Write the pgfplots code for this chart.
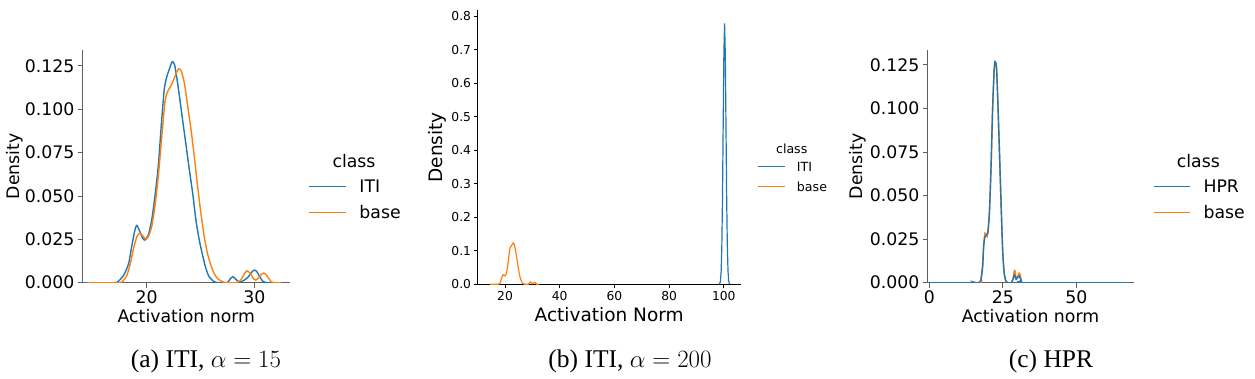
\documentclass[border=0pt]{standalone}
\usepackage{fontspec}
\usepackage{pgfplots}
\usepackage{pgfplotstable}
\pgfplotsset{compat=1.18}
\newfontfamily\djv{DejaVu Sans}
\newfontfamily\capfont{Liberation Serif}
\definecolor{tblue}{RGB}{31,119,180}
\definecolor{torange}{RGB}{255,127,14}
\definecolor{spinegray}{RGB}{95,95,95}

\pgfplotstableread{
x y
14.2 0
16.95 0
17.4 0.001
17.87 0.0044
18.32 0.011
18.63 0.0217
18.93 0.031
19.09 0.033
19.33 0.030
19.63 0.0256
19.85 0.0246
20.15 0.0275
20.46 0.036
20.76 0.0496
21.07 0.067
21.37 0.092
21.62 0.111
21.83 0.118
22.13 0.1237
22.38 0.1275
22.59 0.1256
22.8 0.118
23.05 0.107
23.35 0.093
23.66 0.079
23.96 0.065
24.27 0.0515
24.57 0.036
24.88 0.0246
25.18 0.016
25.49 0.0083
25.79 0.0035
26.25 0.0006
26.7 0
27.47 0
27.71 0.0019
27.99 0.0035
28.29 0.0019
28.6 0.0004
28.99 0.0012
29.39 0.0031
29.76 0.0062
30.0 0.0073
30.24 0.0062
30.52 0.0031
30.82 0.0006
31.13 0
32.0 0
}\itia

\pgfplotstableread{
x y
14.5 0
17.4 0
17.87 0.0015
18.17 0.0044
18.48 0.011
18.78 0.0198
19.09 0.0265
19.33 0.0285
19.63 0.027
19.9 0.0252
20.15 0.0265
20.46 0.0323
20.76 0.0438
21.07 0.061
21.37 0.082
21.68 0.1035
21.92 0.110
22.2 0.113
22.5 0.117
22.74 0.1208
22.96 0.1233
23.2 0.1223
23.5 0.115
23.81 0.1015
24.12 0.088
24.42 0.0727
24.73 0.0554
25.03 0.040
25.34 0.0265
25.64 0.0169
25.95 0.0102
26.25 0.0054
26.55 0.0025
27.01 0.0006
27.47 0
28.38 0
28.69 0.0012
28.99 0.0044
29.3 0.0069
29.6 0.0054
29.91 0.0023
30.12 0.0015
30.37 0.0027
30.67 0.005
30.88 0.0056
31.13 0.0042
31.43 0.0015
31.74 0
32.5 0
}\basea

\pgfplotstableread{
x y
98.3 0
98.55 0.0023
98.8 0.0108
99.05 0.040
99.3 0.117
99.55 0.267
99.8 0.484
100.05 0.691
100.3 0.778
100.55 0.691
100.8 0.484
101.05 0.267
101.3 0.117
101.55 0.040
101.8 0.0108
102.05 0.0023
102.3 0
}\itib

\pgfplotstableread{
x y
0 0
14.1 0
14.9 0.0004
15.8 0
16.7 0
17.5 0.0015
18.1 0.009
18.45 0.0207
18.9 0.0264
19.5 0.0274
19.9 0.029
20.4 0.040
20.95 0.0666
21.5 0.101
22.0 0.122
22.3 0.127
22.8 0.124
23.2 0.107
23.8 0.076
24.4 0.0436
24.95 0.0168
25.5 0.0044
26.1 0.0006
26.6 0
27.8 0
28.3 0.0015
28.9 0.0044
29.5 0.0019
30.0 0.003
30.6 0.0038
31.2 0.0011
31.7 0
67 0
}\hprc

\pgfplotstableread{
x y
0 0
16.8 0
17.5 0.002
18.1 0.011
18.45 0.0225
18.9 0.0285
19.3 0.0275
19.6 0.0265
19.9 0.030
20.4 0.041
20.95 0.066
21.5 0.100
22.0 0.121
22.3 0.126
22.8 0.1235
23.2 0.107
23.8 0.076
24.4 0.0436
24.95 0.017
25.5 0.0046
26.1 0.0006
26.6 0
27.9 0
28.4 0.002
28.8 0.0065
29.1 0.0068
29.5 0.0025
29.9 0.003
30.5 0.0055
30.8 0.0048
31.3 0.0012
31.8 0
67 0
}\basec

\pgfplotsset{
  kdebase/.style={
    scale only axis,
    axis lines=left,
    axis line style={-},
    every outer x axis line/.append style={-},
    every outer y axis line/.append style={-},
    tick align=outside,
    major tick length=5pt,
    minor tick num=0,
    scaled x ticks=false,
    scaled y ticks=false,
    /pgf/number format/assume math mode=true,
    legend cell align=left,
    ymin=0,
  },
  bigfont/.style={
    axis line style={spinegray, line width=1.2pt},
    tick style={spinegray, line width=1pt},
    ticklabel style={font=\fontsize{17.3}{20}\selectfont\djv, inner sep=3pt},
    label style={font=\fontsize{17.3}{20}\selectfont\djv},
    legend style={draw=none, fill=none, inner sep=0pt, outer sep=0pt,
      anchor=north west, row sep=13.4pt, column sep=13pt,
      font=\fontsize{17.3}{20}\selectfont\djv,
      nodes={inner sep=0pt, text height=12.6pt, text depth=0pt}},
    legend image code/.code={\draw[##1] (0pt,0pt) -- (37pt,0pt);},
  },
}

\begin{document}
\begin{tikzpicture}[x=1pt,y=1pt]
\path[use as bounding box] (0,0) rectangle (1255,378);

% ---------- panel (a)
\begin{axis}[kdebase, bigfont,
  at={(82.7pt,95.3pt)}, anchor=south west,
  width=207.3pt, height=232.7pt,
  xmin=14.06, xmax=33.3, ymax=0.1342,
  xtick={20,30},
  ytick={0,0.025,0.05,0.075,0.1,0.125},
  yticklabel style={/pgf/number format/.cd, fixed, fixed zerofill, precision=3},
  xlabel={Activation norm},
  ylabel={Density},
  xlabel style={at={(axis description cs:0.5,-0.1719)}, anchor=base},
  ylabel style={at={(axis description cs:-0.329,0.5)}, anchor=center},
  legend style={at={(axis description cs:1.0868,0.4405)}},
]
\addplot[tblue, line width=1.4pt, smooth, tension=0.4, forget plot] table[x=x,y=y] {\itia};
\addplot[torange, line width=1.4pt, smooth, tension=0.4, forget plot] table[x=x,y=y] {\basea};
\addlegendimage{tblue, line width=1.5pt}
\addlegendentry{ITI}
\addlegendimage{torange, line width=1.5pt}
\addlegendentry{base}
\end{axis}
\node[anchor=base, font=\fontsize{17.3}{20}\selectfont\djv] at (354,210.3) {class};

% ---------- panel (b)
\begin{axis}[kdebase,
  at={(477.7pt,93.7pt)}, anchor=south west,
  width=263pt, height=273.8pt,
  xmin=10.0, xmax=106.2, ymax=0.8164,
  axis line style={black, line width=1pt},
  tick style={black, line width=0.9pt},
  major tick length=4pt,
  ticklabel style={font=\fontsize{12.3}{14}\selectfont\djv, inner sep=2.5pt},
  label style={font=\fontsize{18.5}{22}\selectfont\djv},
  xtick={20,40,60,80,100},
  ytick={0,0.1,0.2,0.3,0.4,0.5,0.6,0.7,0.8},
  yticklabel style={/pgf/number format/.cd, fixed, fixed zerofill, precision=1},
  xlabel={Activation Norm},
  ylabel={Density},
  xlabel style={at={(axis description cs:0.5,-0.1366)}, anchor=base},
  ylabel style={at={(axis description cs:-0.154,0.5)}, anchor=center},
  legend style={draw=none, fill=none, inner sep=0pt, outer sep=0pt,
      at={(axis description cs:1.063,0.4470)},
      anchor=north west, row sep=10.8pt, column sep=11.4pt,
      font=\fontsize{12.6}{15}\selectfont\djv,
      nodes={inner sep=0pt, text height=9.2pt, text depth=0pt}},
  legend image code/.code={\draw[#1] (0pt,0pt) -- (27pt,0pt);},
]
\addplot[tblue, line width=1.2pt, forget plot] table[x=x,y=y] {\itib};
\addplot[torange, line width=1.2pt, smooth, tension=0.4, forget plot] table[x=x,y=y] {\basea};
\addlegendimage{tblue, line width=1.3pt}
\addlegendentry{ITI}
\addlegendimage{torange, line width=1.3pt}
\addlegendentry{base}
\end{axis}
\node[anchor=base, font=\fontsize{12.6}{15}\selectfont\djv] at (791.7,224.7) {class};

% ---------- panel (c)
\begin{axis}[kdebase, bigfont,
  at={(927.7pt,95.3pt)}, anchor=south west,
  width=206.6pt, height=232.7pt,
  xmin=-0.6, xmax=69.7, ymax=0.1336,
  xtick={0,25,50},
  ytick={0,0.025,0.05,0.075,0.1,0.125},
  yticklabel style={/pgf/number format/.cd, fixed, fixed zerofill, precision=3},
  xlabel={Activation norm},
  ylabel={Density},
  xlabel style={at={(axis description cs:0.4976,-0.1719)}, anchor=base},
  ylabel style={at={(axis description cs:-0.337,0.5)}, anchor=center},
  legend style={at={(axis description cs:1.092,0.4405)}},
  legend image code/.code={\draw[#1] (0pt,0pt) -- (35.7pt,0pt);},
]
\addplot[torange, line width=1.4pt, smooth, tension=0.4, forget plot] table[x=x,y=y] {\basec};
\addplot[tblue, line width=1.4pt, smooth, tension=0.4, forget plot] table[x=x,y=y] {\hprc};
\addlegendimage{tblue, line width=1.5pt}
\addlegendentry{HPR}
\addlegendimage{torange, line width=1.5pt}
\addlegendentry{base}
\end{axis}
\node[anchor=base, font=\fontsize{17.3}{20}\selectfont\djv] at (1198.3,210.3) {class};

% ---------- captions
\node[anchor=base, font=\fontsize{25.5}{30}\selectfont\capfont] at (206,10.7) {(a) ITI, $\alpha=15$};
\node[anchor=base, font=\fontsize{25.5}{30}\selectfont\capfont] at (630,10.7) {(b) ITI, $\alpha=200$};
\node[anchor=base, font=\fontsize{25.5}{30}\selectfont\capfont] at (1051,10.7) {(c) HPR};
\end{tikzpicture}
\end{document}
